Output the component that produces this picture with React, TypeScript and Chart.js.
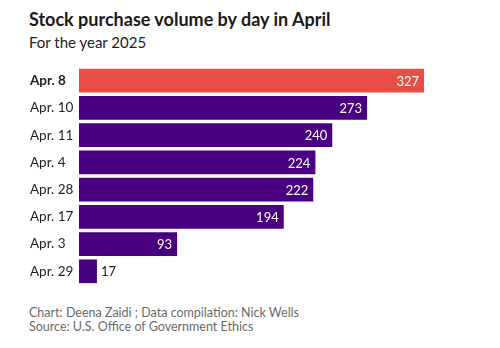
import React, { useEffect, useRef } from "react";
import { Chart, registerables } from "chart.js";

Chart.register(...registerables);

const categories = ["Apr. 8", "Apr. 10", "Apr. 11", "Apr. 4", "Apr. 28", "Apr. 17", "Apr. 3", "Apr. 29"];
const volumes = [327, 273, 240, 224, 222, 194, 93, 17];
const highlightIndex = 0;
const titleText = "Stock purchase volume by day in April";
const subtitleText = "For the year 2025";
const footerLines = ["Chart: Deena Zaidi ; Data compilation: Nick Wells", "Source: U.S. Office of Government Ethics"];

const RED = "#E84E46";
const PURPLE = "#480080";
const FONT = "Lato, 'Open Sans', sans-serif";

const valueLabels = {
  id: "valueLabels",
  afterDatasetsDraw(chart: any) {
    const { ctx } = chart;
    const meta = chart.getDatasetMeta(0);
    ctx.save();
    ctx.font = `13px ${FONT}`;
    ctx.textBaseline = "middle";
    meta.data.forEach((bar: any, i: number) => {
      const v = volumes[i];
      const w = bar.x - bar.base;
      const text = String(v);
      const tw = ctx.measureText(text).width;
      if (w > tw + 12) {
        ctx.fillStyle = "#ffffff";
        ctx.textAlign = "right";
        ctx.fillText(text, bar.x - 5, bar.y + 1);
      } else {
        ctx.fillStyle = "#222222";
        ctx.textAlign = "left";
        ctx.fillText(text, bar.x + 4, bar.y + 1);
      }
    });
    ctx.restore();
  },
};

export default function App() {
  const ref = useRef<HTMLCanvasElement | null>(null);
  useEffect(() => {
    document.body.style.margin = "0";
    if (!ref.current) return;
    const chart = new Chart(ref.current, {
      type: "bar",
      data: {
        labels: categories,
        datasets: [
          {
            data: volumes,
            backgroundColor: volumes.map((_, i) => (i === highlightIndex ? RED : PURPLE)),
            barPercentage: 0.87,
            categoryPercentage: 1,
            borderWidth: 0,
          },
        ],
      },
      options: {
        indexAxis: "y",
        animation: false,
        responsive: false,
        maintainAspectRatio: false,
        layout: { padding: { left: 30, right: 20, top: 6, bottom: 6 } },
        plugins: { legend: { display: false }, tooltip: { enabled: false }, title: { display: false } },
        scales: {
          x: { display: false, min: 0, max: 380 },
          y: {
            grid: { display: false },
            border: { display: false },
            afterFit: (scale: any) => {
              scale.width = 49;
            },
            ticks: {
              crossAlign: "far",
              color: "#222222",
              font: (c: any) => ({
                family: FONT,
                size: 13.5,
                weight: c.index === highlightIndex ? "bold" : "normal",
              }),
            },
          },
        },
      },
      plugins: [valueLabels],
    });
    return () => chart.destroy();
  }, []);

  return (
    <div style={{ position: "relative", width: 500, height: 348, background: "#fff", fontFamily: FONT }}>
      <div style={{ position: "absolute", left: 29, top: 8, fontSize: 18, fontWeight: "bold", color: "#1a1a1a", whiteSpace: "nowrap" }}>
        {titleText}
      </div>
      <div style={{ position: "absolute", left: 29, top: 33, fontSize: 15, color: "#222", whiteSpace: "nowrap" }}>
        {subtitleText}
      </div>
      <canvas ref={ref} width={500} height={240} style={{ position: "absolute", left: 0, top: 56, width: 500, height: 240 }} />
      <div style={{ position: "absolute", left: 29, top: 306, fontSize: 12.5, color: "#6a6a6a", lineHeight: "14px", whiteSpace: "nowrap" }}>
        {footerLines.map((l) => (
          <div key={l}>{l}</div>
        ))}
      </div>
    </div>
  );
}
